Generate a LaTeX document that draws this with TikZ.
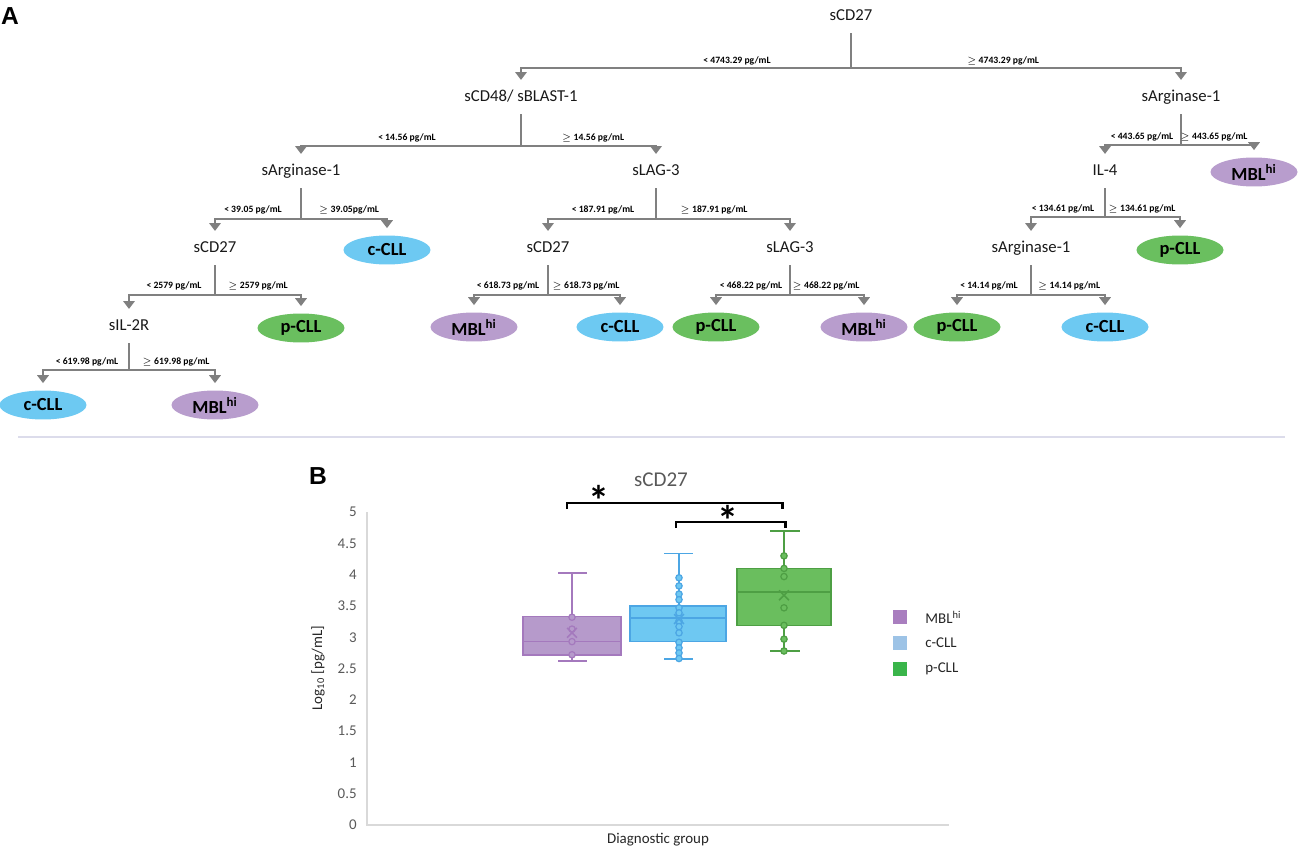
\documentclass[tikz,border=0pt]{standalone}
\usepackage{fontspec}
\setmainfont{Carlito}
\newfontfamily\panelfont{Liberation Sans}
\usetikzlibrary{arrows.meta,shapes.geometric}

\definecolor{linkgray}{HTML}{808080}
\definecolor{mblfill}{HTML}{B89DCD}
\definecolor{ccllfill}{HTML}{6DC9F2}
\definecolor{pcllfill}{HTML}{6ABF5F}
\definecolor{mblbox}{HTML}{B69ACB}
\definecolor{mbledge}{HTML}{A479BD}
\definecolor{cbox}{HTML}{6EC8F2}
\definecolor{cedge}{HTML}{4CA6E4}
\definecolor{pbox}{HTML}{6ABE5E}
\definecolor{pedge}{HTML}{4E9F44}
\definecolor{legmbl}{HTML}{A97EBF}
\definecolor{legc}{HTML}{9DC3E6}
\definecolor{legp}{HTML}{3AB54A}
\definecolor{axisgray}{HTML}{D9D9D9}
\definecolor{ticktext}{HTML}{595959}
\definecolor{rulecol}{HTML}{DCDCEB}

\tikzset{
  panel/.style={font=\panelfont\fontsize{14}{16}\selectfont\bfseries, inner sep=0pt},
  var/.style={font=\fontsize{9.5}{11}\selectfont, text=black!90, inner xsep=2pt, inner ysep=1pt, text height=7pt, text depth=2pt},
  leaf/.style={ellipse, minimum width=1.74cm, minimum height=0.58cm, inner sep=0pt, font=\fontsize{10.5}{12}\selectfont\bfseries},
  mbl/.style={leaf, fill=mblfill},
  ccll/.style={leaf, fill=ccllfill},
  pcll/.style={leaf, fill=pcllfill},
  cut/.style={font=\fontsize{5.5}{6}\selectfont\bfseries, inner sep=0pt},
  link/.style={draw=linkgray, line width=1.4pt, -{Triangle[length=4.5pt,width=6.5pt]}, shorten <=4pt, shorten >=4pt},
  tick/.style={font=\fontsize{8.5}{10}\selectfont, text=ticktext, anchor=east, inner sep=0pt},
  axlabel/.style={font=\fontsize{8.5}{10}\selectfont, text=black!85, inner sep=0pt},
  star/.style={font=\fontsize{24}{26}\selectfont\bfseries, inner sep=0pt},
  legsq/.style={minimum size=0.28cm, inner sep=0pt},
}

\begin{document}
\begin{tikzpicture}[x=0.02cm, y=-0.02cm]

    \useasboundingbox (0,0) rectangle (1299,848);

    \node[panel] (pA) at (10,16) {A};
    \node[panel] (pB) at (318,476) {B};

    % decision tree
    \node[var] (n0) at (851,16) {sCD27};
    \node[var] (n1) at (521,97) {sCD48/ sBLAST-1};
    \node[var] (n2) at (1181,97) {sArginase-1};
    \node[var] (n3) at (301,171) {sArginase-1};
    \node[var] (n4) at (656,171) {sLAG-3};
    \node[var] (n5) at (1105,171) {IL-4};
    \node[mbl] (e1) at (1254,172) {MBL\textsuperscript{hi}};
    \node[var] (n6) at (215,248) {sCD27};
    \node[ccll] (e2) at (387,250) {c-CLL};
    \node[var] (n7) at (548,248) {sCD27};
    \node[var] (n8) at (790,248) {sLAG-3};
    \node[var] (n9) at (1031,248) {sArginase-1};
    \node[pcll] (e3) at (1180,250) {p-CLL};
    \node[var] (n10) at (129,326) {sIL-2R};
    \node[pcll] (e4) at (301,328) {p-CLL};
    \node[mbl] (e5) at (474,327) {MBL\textsuperscript{hi}};
    \node[ccll] (e6) at (620,327) {c-CLL};
    \node[pcll] (e7) at (716,327) {p-CLL};
    \node[mbl] (e8) at (864,327) {MBL\textsuperscript{hi}};
    \node[pcll] (e9) at (957,327) {p-CLL};
    \node[ccll] (e10) at (1105,327) {c-CLL};
    \node[ccll] (e11) at (43,405) {c-CLL};
    \node[mbl] (e12) at (215,405) {MBL\textsuperscript{hi}};

    % splits
    \foreach \p/\c/\y in {n0/n1/68, n0/n2/68, n1/n3/146, n1/n4/146, n2/n5/145, n2/e1/145,
                          n3/n6/219, n3/e2/219, n4/n7/219, n4/n8/219, n5/n9/217, n5/e3/217,
                          n6/n10/295, n6/e4/295, n7/e5/295, n7/e6/295, n8/e7/295, n8/e8/295,
                          n9/e9/295, n9/e10/295, n10/e11/370, n10/e12/370}
        \draw[link] (\p.south) -- (\p.south |- 0,\y) -| (\c.north);

    % thresholds
    \node[cut] (c0a) at (737,61) {< 4743.29 pg/mL};
    \node[cut] (c0b) at (1003,61) {$\geq$ 4743.29 pg/mL};
    \node[cut] (c1a) at (407,138) {< 14.56 pg/mL};
    \node[cut] (c1b) at (593,138) {$\geq$ 14.56 pg/mL};
    \node[cut] (c2a) at (1142,137) {< 443.65 pg/mL};
    \node[cut] (c2b) at (1214,137) {$\geq$ 443.65 pg/mL};
    \node[cut] (c3a) at (253,210) {< 39.05 pg/mL};
    \node[cut] (c3b) at (349,210) {$\geq$ 39.05pg/mL};
    \node[cut] (c4a) at (603,210) {< 187.91 pg/mL};
    \node[cut] (c4b) at (714,210) {$\geq$ 187.91 pg/mL};
    \node[cut] (c5a) at (1063,209) {< 134.61 pg/mL};
    \node[cut] (c5b) at (1142,209) {$\geq$ 134.61 pg/mL};
    \node[cut] (c6a) at (174,286) {< 2579 pg/mL};
    \node[cut] (c6b) at (258,286) {$\geq$ 2579 pg/mL};
    \node[cut] (c7a) at (508,286) {< 618.73 pg/mL};
    \node[cut] (c7b) at (586,286) {$\geq$ 618.73 pg/mL};
    \node[cut] (c8a) at (751,286) {< 468.22 pg/mL};
    \node[cut] (c8b) at (826,286) {$\geq$ 468.22 pg/mL};
    \node[cut] (c9a) at (989,286) {< 14.14 pg/mL};
    \node[cut] (c9b) at (1069,286) {$\geq$ 14.14 pg/mL};
    \node[cut] (c10a) at (87,362) {< 619.98 pg/mL};
    \node[cut] (c10b) at (176,362) {$\geq$ 619.98 pg/mL};

    \draw[rulecol, line width=0.8pt] (18,437) -- (1285,437);

    % box plot
    \node[font=\fontsize{12}{14}\selectfont, text=ticktext, inner sep=0pt] (ttl) at (661,480) {sCD27};
    \node[axlabel, rotate=90] (ylab) at (318,668) {Log\textsubscript{10} [pg/mL]};
    \node[axlabel] (xlab) at (658,840) {Diagnostic group};

    \begin{scope}[shift={(0,825)}, y=1.252cm]
        \draw[axisgray, line width=0.6pt] (367,5) -- (367,0) -- (949,0);
        \foreach \v [count=\i] in {0,0.5,1,1.5,2,2.5,3,3.5,4,4.5,5}
            \node[tick] (t\i) at (357,\v) {\v};

        % MBLhi
        \draw[mbledge, line width=0.9pt] (572,2.62) -- (572,4.03) (558,4.03) -- (587,4.03) (558,2.62) -- (587,2.62);
        \filldraw[fill=mblbox, draw=mbledge, line width=0.9pt] (523,2.72) rectangle (621,3.33);
        \draw[mbledge, line width=0.9pt] (523,2.93) -- (621,2.93);
        \foreach \p in {3.32,3.13,2.93,2.72}
            \filldraw[fill=mblbox, draw=mbledge, line width=0.7pt] (572,\p) circle[radius=1.8pt];
        \draw[mbledge, line width=0.9pt] (572,3.07) ++(-2.8pt,-2.8pt) -- ++(5.6pt,5.6pt) ++(-5.6pt,0) -- ++(5.6pt,-5.6pt);

        % c-CLL
        \draw[cedge, line width=0.9pt] (679,2.65) -- (679,4.34) (664,4.34) -- (693,4.34) (664,2.65) -- (693,2.65);
        \filldraw[fill=cbox, draw=cedge, line width=0.9pt] (630,2.93) rectangle (726,3.50);
        \draw[cedge, line width=0.9pt] (630,3.31) -- (726,3.31);
        \foreach \p in {3.95,3.82,3.69,3.60,3.47,3.39,3.26,3.17,3.07,2.92,2.83,2.75,2.66}
            \filldraw[fill=cbox, draw=cedge, line width=0.7pt] (679,\p) circle[radius=1.8pt];
        \draw[cedge, line width=0.9pt] (679,3.29) ++(-2.8pt,-2.8pt) -- ++(5.6pt,5.6pt) ++(-5.6pt,0) -- ++(5.6pt,-5.6pt);

        % p-CLL
        \draw[pedge, line width=0.9pt] (784,2.78) -- (784,4.70) (770,4.70) -- (800,4.70) (770,2.78) -- (800,2.78);
        \filldraw[fill=pbox, draw=pedge, line width=0.9pt] (737,3.19) rectangle (831,4.10);
        \draw[pedge, line width=0.9pt] (737,3.72) -- (831,3.72);
        \foreach \p in {4.30,4.10,3.97,3.47,3.19,2.97,2.78}
            \filldraw[fill=pbox, draw=pedge, line width=0.7pt] (784,\p) circle[radius=1.8pt];
        \draw[pedge, line width=0.9pt] (784,3.67) ++(-2.8pt,-2.8pt) -- ++(5.6pt,5.6pt) ++(-5.6pt,0) -- ++(5.6pt,-5.6pt);
    \end{scope}

    % significance
    \draw[line width=1.7pt] (567,509) -- (567,503) -- (782,503) -- (782,509);
    \node[star] (s1) at (599,500) {*};
    \draw[line width=1.7pt] (676,528) -- (676,522) -- (785,522) -- (785,528);
    \node[star] (s2) at (728,520) {*};

    % legend
    \node[legsq, fill=legmbl] (k1) at (900,617) {};
    \node[legsq, fill=legc] (k2) at (900,643) {};
    \node[legsq, fill=legp] (k3) at (900,669) {};
    \node[axlabel, anchor=west] (k1t) at (925,617) {MBL\textsuperscript{hi}};
    \node[axlabel, anchor=west] (k2t) at (925,643) {c-CLL};
    \node[axlabel, anchor=west] (k3t) at (925,669) {p-CLL};

\end{tikzpicture}
\end{document}
